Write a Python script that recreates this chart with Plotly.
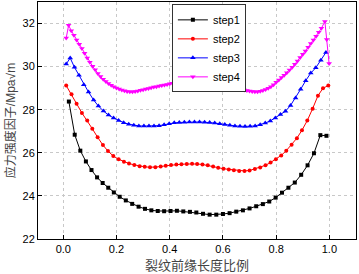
import plotly.graph_objects as go

# ---- data ----
x1 = [0.021, 0.043, 0.064, 0.085, 0.106, 0.127, 0.148, 0.169, 0.19, 0.212, 0.235, 0.259, 0.283, 0.307,
      0.331, 0.355, 0.379, 0.403, 0.427, 0.451, 0.476, 0.50, 0.525, 0.55, 0.575, 0.60, 0.625, 0.65,
      0.675, 0.70, 0.725, 0.75, 0.774, 0.798, 0.822, 0.846, 0.87, 0.894, 0.918, 0.942, 0.966, 0.989]
step1 = [28.38, 26.84, 26.1, 25.6, 25.2, 24.86, 24.6, 24.38, 24.16, 23.96, 23.79, 23.63, 23.5, 23.4,
         23.33, 23.3, 23.29, 23.3, 23.31, 23.28, 23.26, 23.23, 23.17, 23.13, 23.13, 23.16, 23.2, 23.27,
         23.33, 23.42, 23.52, 23.62, 23.74, 23.92, 24.15, 24.38, 24.62, 24.98, 25.42, 25.98, 26.82, 26.79]

x2 = [0.011, 0.031, 0.050, 0.070, 0.090, 0.109, 0.129, 0.149, 0.168, 0.188, 0.208, 0.228, 0.247, 0.267,
      0.287, 0.306, 0.326, 0.346, 0.366, 0.385, 0.405, 0.425, 0.444, 0.464, 0.484, 0.503, 0.523, 0.543,
      0.563, 0.582, 0.602, 0.622, 0.641, 0.661, 0.681, 0.700, 0.720, 0.740, 0.760, 0.779, 0.799, 0.819,
      0.838, 0.858, 0.878, 0.897, 0.917, 0.937, 0.957, 0.976, 0.996]
step2 = [29.12, 28.72, 28.28, 27.85, 27.5, 27.12, 26.72, 26.36, 26.08, 25.85, 25.7, 25.59, 25.5, 25.44,
         25.38, 25.35, 25.33, 25.33, 25.36, 25.4, 25.43, 25.46, 25.47, 25.48, 25.49, 25.48, 25.46, 25.42,
         25.37, 25.31, 25.26, 25.23, 25.19, 25.16, 25.16, 25.18, 25.25, 25.32, 25.42, 25.55, 25.7, 25.88,
         26.1, 26.38, 26.68, 27.05, 27.5, 28.05, 28.65, 29.0, 29.12]

x3 = [0.011, 0.026, 0.042, 0.059, 0.077, 0.095, 0.114, 0.132, 0.151, 0.170, 0.189, 0.208, 0.227, 0.246,
      0.265, 0.284, 0.303, 0.322, 0.341, 0.360, 0.379, 0.398, 0.417, 0.436, 0.455, 0.474, 0.493, 0.512,
      0.531, 0.550, 0.569, 0.588, 0.607, 0.626, 0.645, 0.664, 0.683, 0.702, 0.721, 0.740, 0.759, 0.778,
      0.797, 0.816, 0.835, 0.854, 0.873, 0.892, 0.911, 0.930, 0.949, 0.968, 0.987]
step3 = [30.12, 30.4, 29.97, 29.6, 29.16, 28.82, 28.45, 28.17, 27.94, 27.75, 27.62, 27.5, 27.4, 27.33,
         27.28, 27.25, 27.24, 27.24, 27.24, 27.26, 27.3, 27.35, 27.39, 27.41, 27.42, 27.43, 27.43, 27.43,
         27.42, 27.41, 27.38, 27.35, 27.31, 27.28, 27.25, 27.23, 27.22, 27.23, 27.25, 27.3, 27.38, 27.48,
         27.62, 27.78, 27.93, 28.2, 28.55, 28.95, 29.35, 29.7, 29.95, 30.3, 30.66]

x4 = [0.011, 0.02, 0.03, 0.04, 0.05, 0.06, 0.07, 0.08, 0.09, 0.10, 0.11, 0.12, 0.13, 0.14, 0.15, 0.16,
      0.17, 0.18, 0.19, 0.20, 0.21, 0.22, 0.23, 0.24, 0.25, 0.26, 0.27, 0.28, 0.29, 0.30, 0.31, 0.32,
      0.33, 0.34, 0.35, 0.36, 0.37, 0.38, 0.39, 0.40, 0.41, 0.42, 0.43, 0.44, 0.45, 0.46, 0.47, 0.48,
      0.49, 0.50, 0.51, 0.52, 0.53, 0.54, 0.55, 0.56, 0.57, 0.58, 0.59, 0.60, 0.61, 0.62, 0.63, 0.64,
      0.65, 0.66, 0.67, 0.68, 0.69, 0.70, 0.71, 0.72, 0.73, 0.74, 0.75, 0.76, 0.77, 0.78, 0.79, 0.80,
      0.81, 0.82, 0.83, 0.84, 0.85, 0.86, 0.87, 0.88, 0.89, 0.90, 0.91, 0.92, 0.93, 0.94, 0.95, 0.96,
      0.97, 0.983, 0.99, 0.999]
step4 = [31.33, 31.92, 31.67, 31.46, 31.24, 31.04, 30.84, 30.62, 30.4, 30.2, 30.02, 29.85, 29.68, 29.54,
         29.42, 29.31, 29.22, 29.14, 29.07, 29.01, 28.96, 28.92, 28.88, 28.85, 28.83, 28.83, 28.85, 28.87,
         28.9, 28.93, 28.96, 28.99, 29.02, 29.05, 29.07, 29.1, 29.12, 29.15, 29.17, 29.2, 29.23, 29.26,
         29.29, 29.32, 29.34, 29.36, 29.38, 29.39, 29.39, 29.37, 29.34, 29.31, 29.28, 29.25, 29.22, 29.19,
         29.16, 29.14, 29.12, 29.1, 29.09, 29.07, 29.05, 29.03, 29.0, 28.97, 28.94, 28.91, 28.89, 28.87,
         28.85, 28.84, 28.84, 28.86, 28.89, 28.94, 29.0, 29.07, 29.16, 29.27, 29.38, 29.49, 29.6, 29.72,
         29.84, 29.97, 30.11, 30.26, 30.42, 30.57, 30.73, 30.9, 31.07, 31.24, 31.41, 31.6, 31.78, 32.1,
         31.26, 30.14]

series_names = ["step1", "step2", "step3", "step4"]
colors = ["#000000", "#ff0000", "#0000ff", "#ff00ff"]
symbols = ["square", "circle", "triangle-up", "triangle-down"]
sizes = [4, 4, 5, 5]

xs = [x1, x2, x3, x4]
ys = [step1, step2, step3, step4]

fig = go.Figure()
for name, xv, yv, c, s, sz in zip(series_names, xs, ys, colors, symbols, sizes):
    fig.add_trace(go.Scatter(
        x=xv, y=yv, name=name, mode="lines+markers",
        line=dict(color=c, width=1),
        marker=dict(color=c, symbol=s, size=sz, line=dict(width=0)),
    ))

axis_common = dict(
    showline=True, linecolor="black", linewidth=1, mirror=True,
    ticks="inside", ticklen=4, tickcolor="black",
    showgrid=True, gridcolor="#c8c8c8", griddash="dot", gridwidth=1,
    zeroline=False,
    tickfont=dict(family="Liberation Sans, Arial", size=11, color="black"),
)

fig.update_layout(
    width=359, height=274,
    margin=dict(l=38, r=3, t=2, b=35),
    paper_bgcolor="white", plot_bgcolor="white",
    showlegend=True,
    legend=dict(
        x=0.421, y=0.99, xanchor="left", yanchor="top",
        bgcolor="white", bordercolor="#333333", borderwidth=1,
        font=dict(family="Liberation Sans, Arial", size=11, color="black"),
        tracegroupgap=0, itemwidth=30,
    ),
    xaxis=dict(
        range=[-0.095, 1.1], tick0=0, dtick=0.2, tickformat=".1f",
        title=dict(text="裂纹前缘长度比例", standoff=5,
                   font=dict(family="Noto Sans CJK SC", size=13, color="#444444")),
        **axis_common,
    ),
    yaxis=dict(
        range=[22, 33], tick0=22, dtick=2,
        title=dict(text="应力强度因子/Mpa√m", standoff=4,
                   font=dict(family="Liberation Sans, Noto Sans CJK SC", size=12, color="#444444")),
        **axis_common,
    ),
)

fig.write_html("out.html", config={"displayModeBar": False},
               post_script="document.body.style.margin='0';document.body.style.padding='0';")
